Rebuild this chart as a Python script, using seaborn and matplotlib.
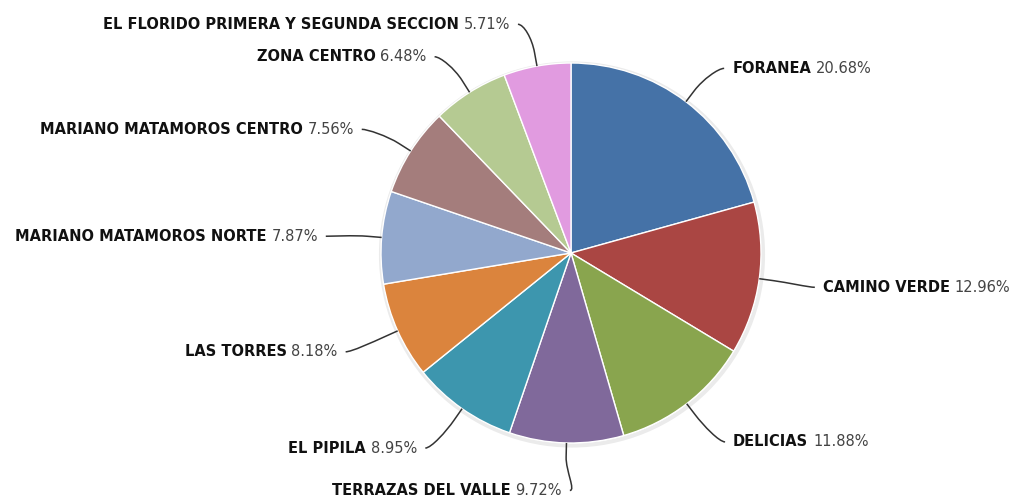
import numpy as np
import matplotlib.pyplot as plt
import seaborn as sns
from matplotlib.path import Path
from matplotlib.patches import PathPatch, Circle

# Data
zonas = ["FORANEA", "CAMINO VERDE", "DELICIAS", "TERRAZAS DEL VALLE", "EL PIPILA",
         "LAS TORRES", "MARIANO MATAMOROS NORTE", "MARIANO MATAMOROS CENTRO",
         "ZONA CENTRO", "EL FLORIDO PRIMERA Y SEGUNDA SECCION"]
porcentajes = [20.68, 12.96, 11.88, 9.72, 8.95, 8.18, 7.87, 7.56, 6.48, 5.71]
colores = ["#4572A7", "#AA4643", "#89A54E", "#80699B", "#3D96AE",
           "#DB843D", "#92A8CD", "#A47D7C", "#B5CA92", "#E19BE0"]

sns.set_theme(style="white")
plt.rcParams['font.family'] = ['DejaVu Sans']

W, H = 1019, 498
fig = plt.figure(figsize=(W / 100, H / 100), dpi=100)
ax = fig.add_axes([0, 0, 1, 1])

cx, cy, r = 571, H - 253, 190
palette = sns.color_palette(colores)

# faint shadow like the original
ax.add_patch(Circle((cx + 1, cy - 1.5), r + 1, facecolor='none', edgecolor='black',
                    alpha=0.08, linewidth=3, zorder=0))

ax.pie(porcentajes, colors=palette, startangle=90, counterclock=False,
       center=(cx, cy), radius=r,
       wedgeprops=dict(edgecolor='white', linewidth=1.0))

# labels with soft connectors
R = 235
pad = 19
cum = np.cumsum(porcentajes)
for nombre, p, c in zip(zonas, porcentajes, cum):
    a = np.deg2rad((c - p / 2) / 100 * 360)
    ux, uy = np.sin(a), np.cos(a)
    side = 1 if np.rad2deg(a) < 180 else -1
    ly = cy + R * uy
    dx = np.sqrt(max(R ** 2 - (ly - cy) ** 2, 0))
    ly -= 2.5
    lx = cx + side * (dx + pad * min(1, dx / 30))

    A = np.array([cx + r * ux, cy + r * uy])
    B = np.array([cx + (r + 14) * ux, cy + (r + 14) * uy])
    M = np.array([lx - side * 8, ly])
    C1 = np.array([lx - side * 14, ly])
    C2 = 2 * B - A
    verts = [M, C1, C2, B, A]
    codes = [Path.MOVETO, Path.CURVE4, Path.CURVE4, Path.CURVE4, Path.LINETO]
    ax.add_patch(PathPatch(Path(verts, codes), facecolor='none',
                           edgecolor='#333333', linewidth=1.1, zorder=3))

    pct = f"{p:.2f}%"
    if side == 1:
        t = ax.text(lx, ly, nombre, ha='left', va='center', fontsize=10.5,
                    fontweight='bold', color='#111111')
        ax.annotate(pct, xy=(1, 0), xycoords=t, xytext=(3.5, 0),
                    textcoords='offset points', ha='left', va='bottom',
                    fontsize=10.5, color='#444444')
    else:
        t = ax.text(lx, ly, pct, ha='right', va='center', fontsize=10.5,
                    color='#444444')
        ax.annotate(nombre, xy=(0, 0), xycoords=t, xytext=(-3.5, 0),
                    textcoords='offset points', ha='right', va='bottom',
                    fontsize=10.5, fontweight='bold', color='#111111')

ax.set_xlim(0, W)
ax.set_ylim(0, H)
ax.set_aspect('equal')
ax.axis('off')

fig.savefig('out.png', dpi=100, facecolor='white')
